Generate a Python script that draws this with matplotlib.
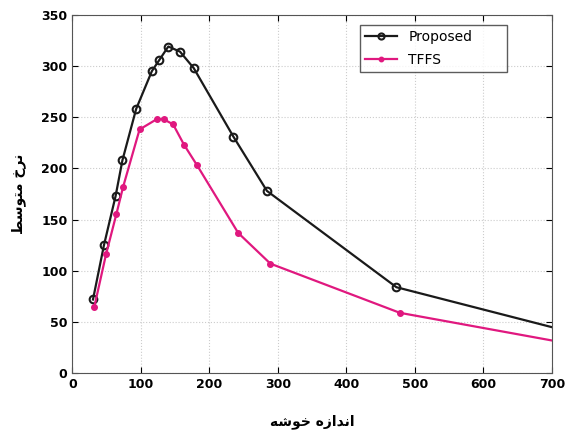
import matplotlib
matplotlib.use('Agg')
import matplotlib.pyplot as plt

# cluster size vs. average rate
prop_x = [30, 46, 63, 73, 93, 116, 127, 140, 157, 177, 235, 284, 473, 700]
prop_y = [72, 125, 173, 208, 258, 295, 306, 319, 314, 298, 231, 178, 84, 45]

tffs_x = [32, 49, 64, 74, 98, 123, 133, 147, 163, 182, 242, 289, 478, 700]
tffs_y = [65, 116, 155, 182, 238, 248, 248, 243, 223, 203, 137, 107, 59, 32]

x_ticks = [0, 100, 200, 300, 400, 500, 600, 700]
y_ticks = [0, 50, 100, 150, 200, 250, 300, 350]

# Persian labels written as shaped presentation forms in visual order
xlabel_fa = "\uFEEA\uFEB7\uFEEE\uFEA7 \uFEE9\uFEAF\uFE8D\uFEAA\uFEE7\uFE8D"   # اندازه خوشه
ylabel_fa = "\uFEC2\uFEB3\uFEEE\uFE98\uFEE3 \uFEA5\uFEAE\uFEE7"               # نرخ متوسط

fig = plt.figure(figsize=(5.66, 4.34), dpi=100)
ax = fig.add_axes([0.128, 0.14, 0.847, 0.826])

ax.plot(prop_x, prop_y, color='#1a1a1a', linewidth=1.6, marker='o', markersize=5.5,
        markerfacecolor='none', markeredgewidth=1.5, markevery=list(range(len(prop_x) - 1)),
        label='Proposed')
ax.plot(tffs_x, tffs_y, color='#e0187f', linewidth=1.6, marker='o', markersize=4,
        markevery=list(range(len(tffs_x) - 1)), label='TFFS')

ax.set_xlim(0, 700)
ax.set_ylim(0, 350)
ax.set_xticks(x_ticks)
ax.set_yticks(y_ticks)
ax.tick_params(direction='in', top=True, right=True, length=4, labelsize=9)
for lbl in ax.get_xticklabels() + ax.get_yticklabels():
    lbl.set_fontweight('bold')
ax.grid(True, color='#cccccc', linestyle=':', linewidth=0.8)
for s in ax.spines.values():
    s.set_color('#555555')

ax.set_xlabel(xlabel_fa, fontsize=10, fontweight='bold', family='DejaVu Sans', labelpad=17)
ax.set_ylabel(ylabel_fa, fontsize=10, fontweight='bold', family='DejaVu Sans', labelpad=11)

leg = ax.legend(loc='upper left', bbox_to_anchor=(0.599, 0.0, 0.307, 0.972), mode='expand',
                borderaxespad=0, fancybox=False, edgecolor='#333333', fontsize=10,
                handlelength=2.3, labelspacing=0.6, markerscale=0.8)
leg.get_frame().set_linewidth(1.0)

plt.savefig('out.png', dpi=100)
